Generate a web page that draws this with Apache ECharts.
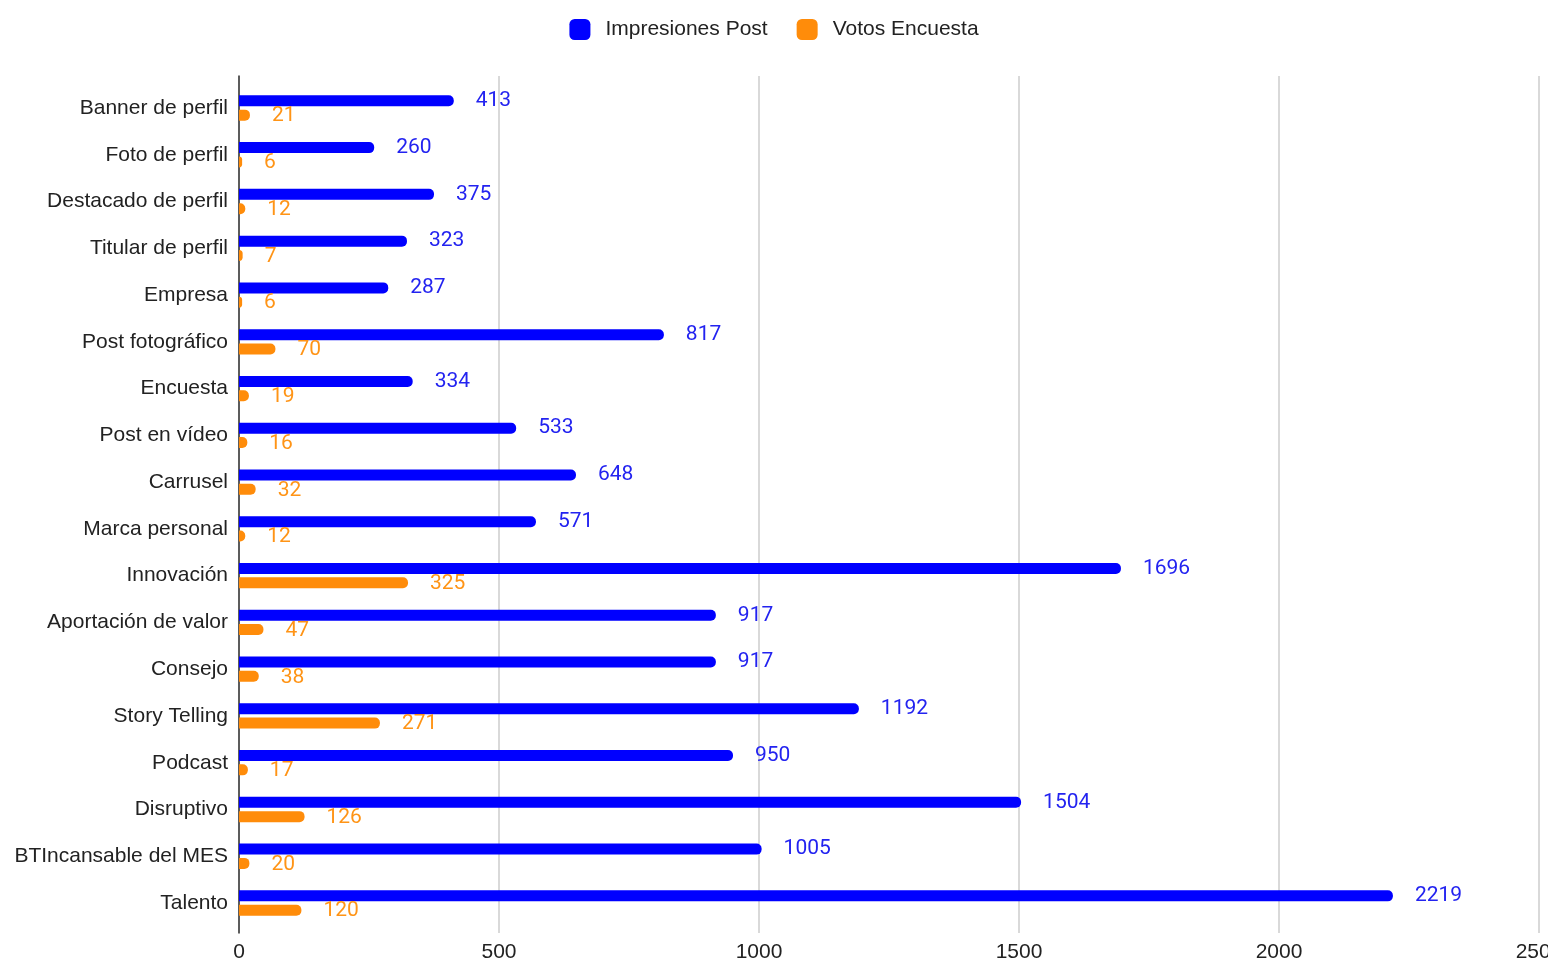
<!DOCTYPE html>
<html>
<head>
<meta charset="utf-8">
<script src="https://cdn.jsdelivr.net/npm/echarts@6/dist/echarts.min.js"></script>
<style>
  html, body { margin: 0; padding: 0; background: #fff; }
  #chart { width: 1548px; height: 965px; }
</style>
</head>
<body>
<div id="chart"></div>
<script>
const categories = ['Banner de perfil', 'Foto de perfil', 'Destacado de perfil', 'Titular de perfil', 'Empresa',
  'Post fotográfico', 'Encuesta', 'Post en vídeo', 'Carrusel', 'Marca personal', 'Innovación',
  'Aportación de valor', 'Consejo', 'Story Telling', 'Podcast', 'Disruptivo', 'BTIncansable del MES', 'Talento']
const impresiones = [413, 260, 375, 323, 287, 817, 334, 533, 648, 571, 1696, 917, 917, 1192, 950, 1504, 1005, 2219]
const votos = [21, 6, 12, 7, 6, 70, 19, 16, 32, 12, 325, 47, 38, 271, 17, 126, 20, 120]
const xTicks = [0, 500, 1000, 1500, 2000, 2500]

const font = '"Liberation Sans", Arial, sans-serif'
const labelFont = 'Roboto, Arial, sans-serif'
const myChart = echarts.init(document.getElementById('chart'))

myChart.setOption({
  color: ['#0000ff', '#ff8c0a'],
  textStyle: { fontFamily: font },
  legend: {
    top: 14,
    left: 'center',
    icon: 'roundRect',
    itemWidth: 21,
    itemHeight: 21,
    itemGap: 29,
    textStyle: { fontSize: 21, color: '#222', fontFamily: font, padding: [0, 0, 0, 10] },
    data: ['Impresiones Post', 'Votos Encuesta']
  },
  grid: [
    // gridlines + axis line
    { left: 239, right: 9, top: 76, bottom: 32, outerBoundsMode: 'none' },
    // bars
    { left: 239, right: 9, top: 84.6, bottom: 38.6, outerBoundsMode: 'none' }
  ],
  xAxis: [
    {
      gridIndex: 0,
      type: 'value',
      min: xTicks[0],
      max: xTicks[xTicks.length - 1],
      interval: 500,
      axisLine: { show: false },
      axisTick: { show: false },
      splitLine: { lineStyle: { color: '#cccccc', width: 1.5 } },
      axisLabel: {
        fontSize: 21, color: '#222', margin: 9, fontFamily: font,
        formatter: (v) => String(v)
      }
    },
    {
      gridIndex: 1,
      type: 'value',
      min: xTicks[0],
      max: xTicks[xTicks.length - 1],
      show: false
    }
  ],
  yAxis: [
    {
      gridIndex: 0,
      type: 'value',
      axisLine: { show: true, lineStyle: { color: '#333', width: 1.5 } },
      axisTick: { show: false },
      axisLabel: { show: false },
      splitLine: { show: false }
    },
    {
      gridIndex: 1,
      type: 'category',
      inverse: true,
      data: categories,
      axisLine: { show: false },
      axisTick: { show: false },
      axisLabel: { fontSize: 21, color: '#222', margin: 11, fontFamily: font }
    }
  ],
  series: [
    {
      name: 'Impresiones Post',
      type: 'bar',
      xAxisIndex: 1,
      yAxisIndex: 1,
      barWidth: 11,
      barGap: '30%',
      itemStyle: { borderRadius: [0, 5, 5, 0] },
      label: { show: true, position: 'right', distance: 22, fontSize: 21, color: '#2323f0', fontFamily: labelFont },
      data: impresiones
    },
    {
      name: 'Votos Encuesta',
      type: 'bar',
      xAxisIndex: 1,
      yAxisIndex: 1,
      barWidth: 11,
      itemStyle: { borderRadius: [0, 5, 5, 0] },
      label: { show: true, position: 'right', distance: 22, fontSize: 21, color: '#ff9416', fontFamily: labelFont, offset: [0, 1] },
      data: votos
    }
  ]
})
</script>
</body>
</html>
